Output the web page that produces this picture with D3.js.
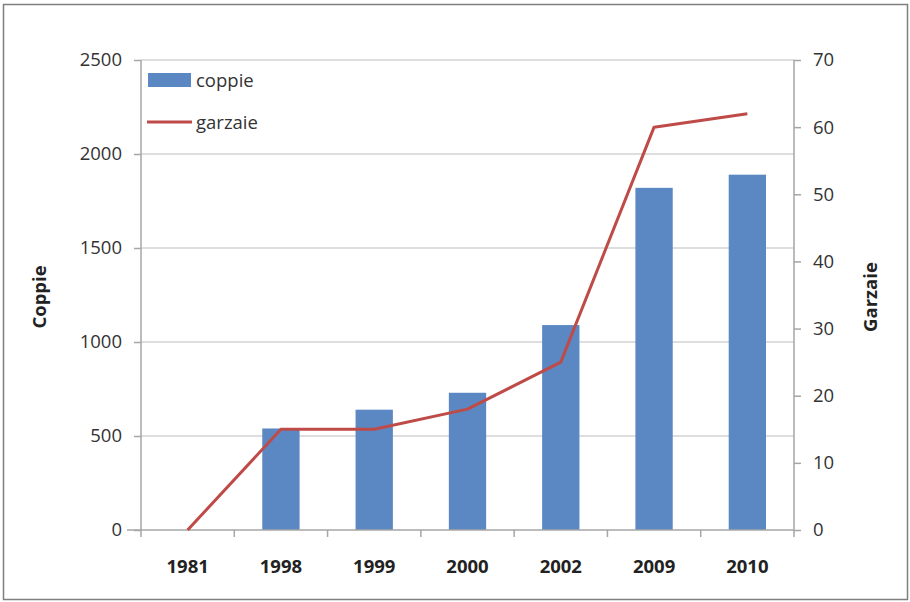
<!DOCTYPE html>
<html><head><meta charset="utf-8">
<script src="https://cdn.jsdelivr.net/npm/d3@7"></script>
<style>body{margin:0;background:#fff;} text{font-family:"Open Sans","Liberation Sans",sans-serif;}</style>
</head><body>
<svg id="c" width="910" height="602"></svg>
<script>
const categories = ["1981","1998","1999","2000","2002","2009","2010"];
const coppie = [0, 540, 640, 730, 1090, 1820, 1890];
const garzaie = [0, 15, 15, 18, 25, 60, 62];
const leftTicks = [0, 500, 1000, 1500, 2000, 2500];
const rightTicks = [0, 10, 20, 30, 40, 50, 60, 70];
const seriesNames = ["coppie", "garzaie"];

const svg = d3.select("#c");
const m = {l:141, r:794, t:60, b:530};
const x = d3.scaleBand().domain(categories).range([m.l, m.r]).paddingInner(0).paddingOuter(0);
const yL = d3.scaleLinear().domain([0,2500]).range([m.b, m.t]);
const yR = d3.scaleLinear().domain([0,70]).range([m.b, m.t]);
const grid = "#bdbdbd", axisC = "#a6a6a6", txt = "#333";
const fs = "18.5px";

svg.append("rect").attr("x",3.5).attr("y",4.5).attr("width",904).attr("height",595)
  .attr("fill","#fff").attr("stroke","#7f7f7f").attr("stroke-width",1.5);

// gridlines
svg.append("g").selectAll("line").data(leftTicks.filter(d=>d>0)).join("line")
  .attr("x1",m.l).attr("x2",m.r).attr("y1",d=>yL(d)).attr("y2",d=>yL(d))
  .attr("stroke",grid).attr("stroke-width",1.2);

// bars
const bw = x.bandwidth()*0.4;
svg.append("g").selectAll("rect").data(categories).join("rect")
  .attr("x",d=>x(d)+x.bandwidth()/2-bw/2).attr("width",bw)
  .attr("y",(d,i)=>yL(coppie[i])).attr("height",(d,i)=>m.b-yL(coppie[i]))
  .attr("fill","#5b87c2");

// left axis
const gL = svg.append("g").attr("transform",`translate(${m.l},0)`)
  .call(d3.axisLeft(yL).tickValues(leftTicks).tickFormat(d3.format("d")).tickSize(7).tickPadding(12));
// right axis
const gR = svg.append("g").attr("transform",`translate(${m.r},0)`)
  .call(d3.axisRight(yR).tickValues(rightTicks).tickFormat(d3.format("d")).tickSize(7).tickPadding(12));
// bottom axis
const gB = svg.append("g").attr("transform",`translate(0,${m.b})`)
  .call(d3.axisBottom(x).tickSize(0).tickPadding(30));
[gL,gR,gB].forEach(g=>{
  g.select(".domain").attr("stroke",axisC).attr("stroke-width",1.5);
  g.selectAll(".tick line").attr("stroke",axisC).attr("stroke-width",1.5);
  g.selectAll("text").attr("fill",txt).style("font-size",fs).style("font-family",'"Open Sans",sans-serif');
});
gL.select(".domain").attr("d",`M0,${m.b}V${m.t}`);
gR.select(".domain").attr("d",`M0,${m.b}V${m.t}`);
gB.select(".domain").attr("d",`M${m.l-14},0H${m.r}`);
gB.selectAll("text").style("font-weight","bold").attr("fill","#222");
// category boundary ticks
svg.append("g").selectAll("line").data(categories.concat(["_end"])).join("line")
  .attr("x1",(d,i)=>m.l+i*x.bandwidth()).attr("x2",(d,i)=>m.l+i*x.bandwidth())
  .attr("y1",m.b).attr("y2",m.b+7).attr("stroke",axisC).attr("stroke-width",1.5);

// line
const line = d3.line().x((d,i)=>x(categories[i])+x.bandwidth()/2).y(d=>yR(d));
svg.append("path").datum(garzaie).attr("d",line).attr("fill","none")
  .attr("stroke","#be4b48").attr("stroke-width",3).attr("stroke-linejoin","round");

// axis titles
svg.append("text").attr("transform",`translate(46,297) rotate(-90)`).attr("text-anchor","middle")
  .style("font-size",fs).style("font-weight","bold").attr("fill","#222").text("Coppie");
svg.append("text").attr("transform",`translate(877,297) rotate(-90)`).attr("text-anchor","middle")
  .style("font-size",fs).style("font-weight","bold").attr("fill","#222").text("Garzaie");

// legend
const lg = svg.append("g");
lg.append("rect").attr("x",148).attr("y",73).attr("width",43).attr("height",14).attr("fill","#5b87c2");
lg.append("text").attr("x",196).attr("y",87).style("font-size",fs).attr("fill",txt).text(seriesNames[0]);
lg.append("line").attr("x1",147).attr("x2",192).attr("y1",122).attr("y2",122).attr("stroke","#be4b48").attr("stroke-width",3);
lg.append("text").attr("x",196).attr("y",129).style("font-size",fs).attr("fill",txt).text(seriesNames[1]);
</script>
</body></html>
